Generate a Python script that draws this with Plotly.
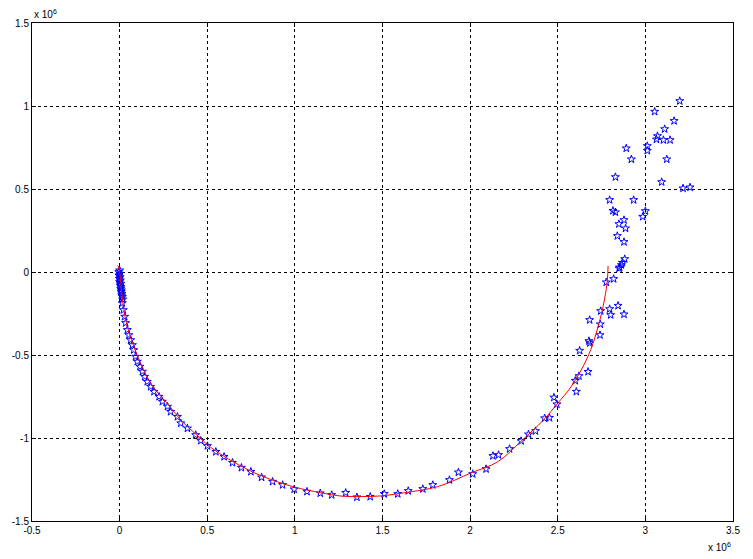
"""Spiral trajectory: measured points (stars) against fitted track (red line)."""
from __future__ import annotations

import plotly.graph_objects as go

# values in units of 1e6
STAR_X = [
    0.0, -0.005, 0.002, -0.004, 0.003, -0.002, 0.004, 0.0, 0.006, 0.003,
    0.008, 0.006, 0.010, 0.009, 0.013, 0.012, 0.016, 0.018,
    0.015, 0.021, 0.029, 0.034, 0.044, 0.053, 0.063, 0.073, 0.080, 0.091,
    0.101, 0.116, 0.130, 0.143, 0.158, 0.177, 0.196, 0.225, 0.244, 0.273,
    0.291, 0.330, 0.349, 0.387, 0.434, 0.463, 0.501, 0.549, 0.596, 0.644,
    0.695, 0.749, 0.810, 0.873, 0.930, 0.996, 1.069, 1.145, 1.210, 1.290,
    1.354, 1.430, 1.510, 1.587, 1.647, 1.730, 1.787, 1.882, 1.933, 2.015,
    2.091, 2.130, 2.162, 2.225, 2.291, 2.333, 2.373, 2.425, 2.453, 2.478,
    2.495, 2.606, 2.600, 2.621, 2.673, 2.625, 2.678, 2.683, 2.741, 2.743,
    2.682, 2.745, 2.796, 2.802, 2.844, 2.878, 2.777, 2.819, 2.853, 2.869,
    2.863, 2.850, 2.882,
    2.878, 2.840, 2.887, 2.849, 2.878, 2.985, 3.000, 2.815, 2.829, 2.796,
    2.933, 3.215, 3.255, 3.093, 2.829, 2.920, 3.122, 2.891, 3.011, 3.011,
    3.069, 3.063, 3.103, 3.141, 3.110, 3.164, 3.053, 3.196,
]
STAR_Y = [
    0.010, 0.0, -0.010, -0.020, -0.030, -0.040, -0.050, -0.060, -0.070, -0.080,
    -0.090, -0.100, -0.110, -0.120, -0.130, -0.140, -0.150, -0.165,
    -0.187, -0.229, -0.269, -0.307, -0.349, -0.380, -0.410, -0.440, -0.470, -0.510,
    -0.540, -0.570, -0.600, -0.631, -0.661, -0.691, -0.721, -0.751, -0.781, -0.811,
    -0.842, -0.872, -0.911, -0.942, -0.982, -1.016, -1.048, -1.083, -1.113, -1.149,
    -1.179, -1.203, -1.237, -1.263, -1.283, -1.309, -1.323, -1.333, -1.343, -1.330,
    -1.357, -1.354, -1.337, -1.337, -1.319, -1.307, -1.283, -1.253, -1.207, -1.217,
    -1.187, -1.108, -1.102, -1.066, -1.018, -0.978, -0.958, -0.881, -0.878, -0.756,
    -0.797, -0.721, -0.655, -0.627, -0.601, -0.474, -0.416, -0.428, -0.380, -0.315,
    -0.289, -0.235, -0.223, -0.259, -0.203, -0.255, -0.062, -0.042, 0.028, 0.056,
    0.042, 0.022, 0.078,
    0.181, 0.217, 0.263, 0.289, 0.313, 0.333, 0.367, 0.369, 0.360, 0.434,
    0.434, 0.504, 0.510, 0.542, 0.572, 0.679, 0.679, 0.745, 0.759, 0.731,
    0.819, 0.799, 0.795, 0.795, 0.861, 0.910, 0.966, 1.030,
]

TRACK_X = [
    -0.010, 0.0, 0.020, 0.044, 0.100, 0.177, 0.270, 0.366, 0.460, 0.500,
    0.595, 0.749, 0.863, 0.995, 1.149, 1.263, 1.377, 1.490, 1.623, 1.815,
    2.006, 2.158, 2.290, 2.420, 2.500, 2.577, 2.672, 2.730, 2.766, 2.783, 2.787,
]
TRACK_Y = [
    0.040, 0.0, -0.200, -0.330, -0.500, -0.670, -0.790, -0.910, -1.000, -1.040,
    -1.110, -1.200, -1.250, -1.295, -1.330, -1.350, -1.353, -1.349, -1.330, -1.293,
    -1.210, -1.143, -1.020, -0.890, -0.790, -0.690, -0.510, -0.330, -0.169, -0.048, 0.036,
]

X_TICKS = [-0.5, 0, 0.5, 1, 1.5, 2, 2.5, 3, 3.5]
Y_TICKS = [-1.5, -1, -0.5, 0, 0.5, 1, 1.5]

FONT = "Arial, Liberation Sans, sans-serif"

AXIS_STYLE = dict(
    showline=True, linecolor="black", linewidth=1, mirror="ticks",
    ticks="inside", ticklen=4, tickcolor="black",
    showgrid=True, gridcolor="black", gridwidth=1, griddash="3px,3px",
    zeroline=False, automargin=False,
    tickfont=dict(family=FONT, size=10, color="black"),
)


def build_figure() -> go.Figure:
    fig = go.Figure()
    fig.add_trace(go.Scatter(
        x=STAR_X, y=STAR_Y, mode="markers",
        marker=dict(symbol="star-open", size=6, color="blue",
                    line=dict(color="blue", width=1)),
    ))
    fig.add_trace(go.Scatter(
        x=TRACK_X, y=TRACK_Y, mode="lines", line_shape="spline",
        line=dict(color="red", width=1),
    ))
    fig.update_xaxes(**AXIS_STYLE, range=[-0.5, 3.5], tickvals=X_TICKS,
                     ticktext=[f"{v:g}" for v in X_TICKS])
    fig.update_yaxes(**AXIS_STYLE, range=[-1.5, 1.5], tickvals=Y_TICKS,
                     ticktext=[f"{v:g}" for v in Y_TICKS])
    exp_font = dict(family=FONT, size=10, color="black")
    fig.add_annotation(text="x 10<sup>6</sup>", xref="paper", yref="paper",
                       x=0, y=1, xanchor="left", yanchor="bottom", yshift=1,
                       showarrow=False, font=exp_font)
    fig.add_annotation(text="x 10<sup>6</sup>", xref="paper", yref="paper",
                       x=1, y=0, xanchor="right", yanchor="top", yshift=-18,
                       showarrow=False, font=exp_font)
    # page body adds an 8px margin, so the figure is 8px smaller each way
    fig.update_layout(
        width=745, height=551,
        margin=dict(l=24, r=20, t=15, b=38),
        paper_bgcolor="white", plot_bgcolor="white",
        showlegend=False,
    )
    return fig


fig = build_figure()
fig.write_html("out.html")
